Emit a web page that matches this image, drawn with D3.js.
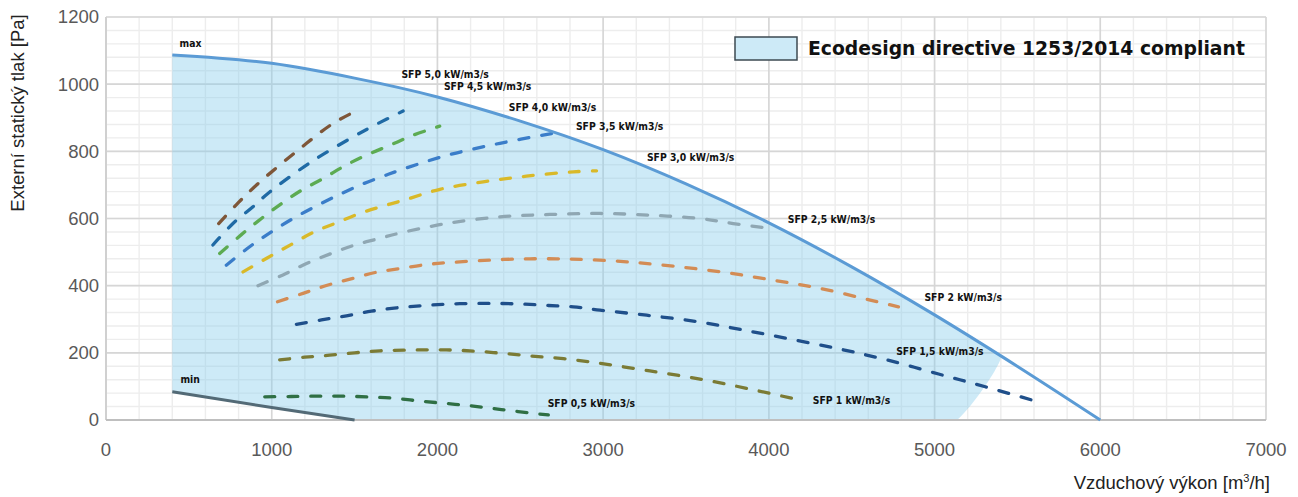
<!DOCTYPE html>
<meta charset="utf-8">
<script src="https://d3js.org/d3.v7.min.js"></script>
<style>
  body { margin: 0; background: #fff; }
</style>
<div id="my_dataviz"></div>

<script>

  // ---- data (airflow m3/h, pressure Pa) ----
  var maxCurve = [[400,1087],[1000,1062],[1500,1018],[2000,962],[2500,890],[3000,805],[3500,703],[4000,587],[4500,456],[5000,313],[5400,191],[6000,0]];
  var minCurve = [[400,84],[1000,37],[1500,0]];
  // right border of the compliant zone
  var zoneEdge = [[5400,191],[5396,179],[5348,134],[5288,89],[5215,42],[5137,0]];

  var sfpNames = ["SFP 5,0 kW/m3/s","SFP 4,5 kW/m3/s","SFP 4,0 kW/m3/s","SFP 3,5 kW/m3/s","SFP 3,0 kW/m3/s",
                  "SFP 2,5 kW/m3/s","SFP 2 kW/m3/s","SFP 1,5 kW/m3/s","SFP 1 kW/m3/s","SFP 0,5 kW/m3/s"];

  var sfp50 = [[680,585],[800,648],[920,705],[1150,800],[1370,883],[1530,925]];
  var sfp45 = [[645,521],[766,585],[887,635],[988,679],[1240,769],[1491,843],[1622,878],[1793,920]];
  var sfp40 = [[686,496],[817,552],[938,600],[1058,644],[1179,684],[1310,719],[1441,757],[1572,789],[1713,818],[1853,848],[2014,875]];
  var sfp35 = [[726,461],[867,516],[998,560],[1129,600],[1260,635],[1390,667],[1521,697],[1662,724],[1803,749],[2065,789],[2377,824],[2689,853]];
  var sfp30 = [[827,441],[978,484],[1119,523],[1252,559],[1390,587],[1531,615],[1672,637],[1814,657],[2015,687],[2276,709],[2537,726],[2820,739],[2960,742]];
  var sfp25 = [[917,400],[1068,432],[1210,466],[1360,496],[1501,521],[1652,541],[1793,559],[2055,585],[2377,605],[2679,612],[2980,615],[3282,610],[3584,600],[3785,585],[4018,570]];
  var sfp20 = [[1035,352],[1189,377],[1340,402],[1491,422],[1632,440],[1773,451],[1934,463],[2075,469],[2236,474],[2397,478],[2558,480],[2719,480],[2880,478],[3142,471],[3423,458],[3725,440],[4018,417],[4309,392],[4612,357],[4782,337]];
  var sfp15 = [[1149,285],[1300,298],[1451,310],[1602,324],[1753,334],[1904,340],[2055,345],[2216,347],[2367,347],[2518,345],[2669,341],[2820,337],[2981,327],[3263,312],[3565,293],[3846,268],[4138,240],[4440,210],[4712,179],[5024,137],[5306,99],[5640,52]];
  var sfp10 = [[1048,179],[1199,187],[1350,193],[1501,200],[1652,206],[1803,208],[1953,209],[2104,208],[2255,204],[2407,198],[2558,191],[2709,185],[2860,177],[2981,169],[3282,146],[3595,121],[3897,91],[4208,57]];
  var sfp05 = [[958,69],[1119,70],[1270,71],[1421,71],[1572,69],[1733,65],[1884,57],[2035,50],[2185,43],[2336,34],[2487,25],[2669,15]];
  var sfpSeries = [sfp50, sfp45, sfp40, sfp35, sfp30, sfp25, sfp20, sfp15, sfp10, sfp05];

  // where each SFP label sits (data coords of its left edge / middle)
  var sfpLabelAt = [[1783,1030],[2039,994],[2431,932],[2836,873],[3264,782],[4114,597],[4939,365],[4768,203],[4265,57],[2665,48]];
  var maxLabelAt = [444,1121];
  var minLabelAt = [449,122];

  var xTicks = [0,1000,2000,3000,4000,5000,6000,7000];
  var yTicks = [0,200,400,600,800,1000,1200];
  var legendText = "Ecodesign directive 1253/2014 compliant";

  var sfpColors = ["#7e5638","#1f6aa5","#5cab52","#3a7dc9","#d9b929","#8fa7b3","#d38c55","#1f4f8a","#7b7b35","#2f6f44"];

  // ---- layout ----
  var W = 1298, H = 497;
  var margin = { top: 17, right: 32, bottom: 77, left: 106 };
  var width = W - margin.left - margin.right,
      height = H - margin.top - margin.bottom;

  var svg = d3.select("#my_dataviz")
    .append("svg")
    .attr("width", W)
    .attr("height", H)
    .style("font-family", "'Liberation Sans', Arial, sans-serif");

  var g = svg.append("g")
    .attr("transform", "translate(" + margin.left + "," + margin.top + ")");

  var x = d3.scaleLinear().domain([0, 7000]).range([0, width]);
  var y = d3.scaleLinear().domain([0, 1200]).range([height, 0]);

  // minor grid
  g.append("g").selectAll("line")
    .data(d3.range(0, 7001, 200))
    .enter().append("line")
    .attr("x1", function (d) { return x(d); }).attr("x2", function (d) { return x(d); })
    .attr("y1", 0).attr("y2", height)
    .attr("stroke", "#ededed").attr("stroke-width", 1.4);
  g.append("g").selectAll("line")
    .data(d3.range(0, 1201, 40))
    .enter().append("line")
    .attr("y1", function (d) { return y(d); }).attr("y2", function (d) { return y(d); })
    .attr("x1", 0).attr("x2", width)
    .attr("stroke", "#ededed").attr("stroke-width", 1.4);

  // major grid
  g.append("g").selectAll("line")
    .data(xTicks)
    .enter().append("line")
    .attr("x1", function (d) { return x(d); }).attr("x2", function (d) { return x(d); })
    .attr("y1", 0).attr("y2", height)
    .attr("stroke", "#d6d6d6").attr("stroke-width", 1.6);
  g.append("g").selectAll("line")
    .data(yTicks)
    .enter().append("line")
    .attr("y1", function (d) { return y(d); }).attr("y2", function (d) { return y(d); })
    .attr("x1", 0).attr("x2", width)
    .attr("stroke", "#d6d6d6").attr("stroke-width", 1.6);

  // compliant zone
  var lineMono = d3.line().x(function (d) { return x(d[0]); }).y(function (d) { return y(d[1]); }).curve(d3.curveMonotoneX);
  var lineEdge = d3.line().x(function (d) { return x(d[0]); }).y(function (d) { return y(d[1]); }).curve(d3.curveCatmullRom);
  var lineStraight = d3.line().x(function (d) { return x(d[0]); }).y(function (d) { return y(d[1]); });

  var topPart = lineMono(maxCurve.filter(function (d) { return d[0] <= 5400; }));
  var edgePart = lineEdge(zoneEdge).replace(/^M/, "L");
  var minPart = lineStraight(minCurve.slice().reverse()).replace(/^M/, "L");
  g.append("path")
    .attr("d", topPart + edgePart + minPart + "Z")
    .attr("fill", "#87ceeb")
    .attr("fill-opacity", 0.42);

  // axes lines
  g.append("line").attr("x1", 0).attr("x2", 0).attr("y1", 0).attr("y2", height)
    .attr("stroke", "#d0d0d0").attr("stroke-width", 2);
  g.append("line").attr("x1", 0).attr("x2", width).attr("y1", height).attr("y2", height)
    .attr("stroke", "#bfbfbf").attr("stroke-width", 2);

  // SFP dashed curves
  var lineSmooth = d3.line().x(function (d) { return x(d[0]); }).y(function (d) { return y(d[1]); }).curve(d3.curveCatmullRom);
  g.append("g").selectAll("path")
    .data(sfpSeries)
    .enter().append("path")
    .attr("d", lineSmooth)
    .attr("fill", "none")
    .attr("stroke", function (d, i) { return sfpColors[i]; })
    .attr("stroke-width", 3.3)
    .attr("stroke-linecap", "round")
    .attr("stroke-dasharray", "10,13");

  // max / min
  g.append("path").attr("d", lineMono(maxCurve))
    .attr("fill", "none").attr("stroke", "#5b9bd5").attr("stroke-width", 3);
  g.append("path").attr("d", lineStraight(minCurve))
    .attr("fill", "none").attr("stroke", "#536a76").attr("stroke-width", 3);

  // curve labels
  var lblFont = "'DejaVu Sans Condensed', 'DejaVu Sans', sans-serif";
  g.append("g").selectAll("text")
    .data(sfpNames)
    .enter().append("text")
    .attr("x", function (d, i) { return x(sfpLabelAt[i][0]); })
    .attr("y", function (d, i) { return y(sfpLabelAt[i][1]); })
    .attr("dy", "0.35em")
    .style("font-family", lblFont)
    .style("font-stretch", "condensed")
    .style("font-weight", "bold")
    .style("font-size", "10.3px")
    .attr("fill", "#111")
    .text(function (d) { return d; });

  g.append("text").attr("x", x(maxLabelAt[0])).attr("y", y(maxLabelAt[1])).attr("dy", "0.35em")
    .style("font-family", lblFont).style("font-stretch", "condensed").style("font-weight", "bold").style("font-size", "10.3px")
    .attr("fill", "#111").text("max");
  g.append("text").attr("x", x(minLabelAt[0])).attr("y", y(minLabelAt[1])).attr("dy", "0.35em")
    .style("font-family", lblFont).style("font-stretch", "condensed").style("font-weight", "bold").style("font-size", "10.3px")
    .attr("fill", "#111").text("min");

  // tick labels
  g.append("g").selectAll("text")
    .data(xTicks)
    .enter().append("text")
    .attr("x", function (d) { return x(d); })
    .attr("y", height + 36)
    .attr("text-anchor", "middle")
    .style("font-size", "18.5px")
    .attr("fill", "#595959")
    .text(function (d) { return d; });
  g.append("g").selectAll("text")
    .data(yTicks)
    .enter().append("text")
    .attr("x", -7)
    .attr("y", function (d) { return y(d); })
    .attr("dy", "0.35em")
    .attr("text-anchor", "end")
    .style("font-size", "18.5px")
    .attr("fill", "#595959")
    .text(function (d) { return d; });

  // axis titles
  var xt = svg.append("text")
    .attr("x", 1270).attr("y", 489)
    .attr("text-anchor", "end")
    .style("font-size", "18.5px")
    .attr("fill", "#222");
  xt.append("tspan").text("Vzduchový výkon [m");
  xt.append("tspan").attr("dy", -7).style("font-size", "11px").text("3");
  xt.append("tspan").attr("dy", 7).text("/h]");

  svg.append("text")
    .attr("transform", "translate(24,113) rotate(-90)")
    .attr("text-anchor", "middle")
    .style("font-size", "18.5px")
    .attr("fill", "#222")
    .text("Externí statický tlak [Pa]");

  // legend
  svg.append("rect")
    .attr("x", 735).attr("y", 37).attr("width", 62).attr("height", 23)
    .attr("fill", "#cdeaf7").attr("stroke", "#3d4a52").attr("stroke-width", 1.5);
  svg.append("text")
    .attr("x", 808).attr("y", 55)
    .style("font-family", "'DejaVu Sans', sans-serif")
    .style("font-weight", "bold")
    .style("font-size", "18.8px")
    .attr("fill", "#111")
    .text(legendText);

</script>
